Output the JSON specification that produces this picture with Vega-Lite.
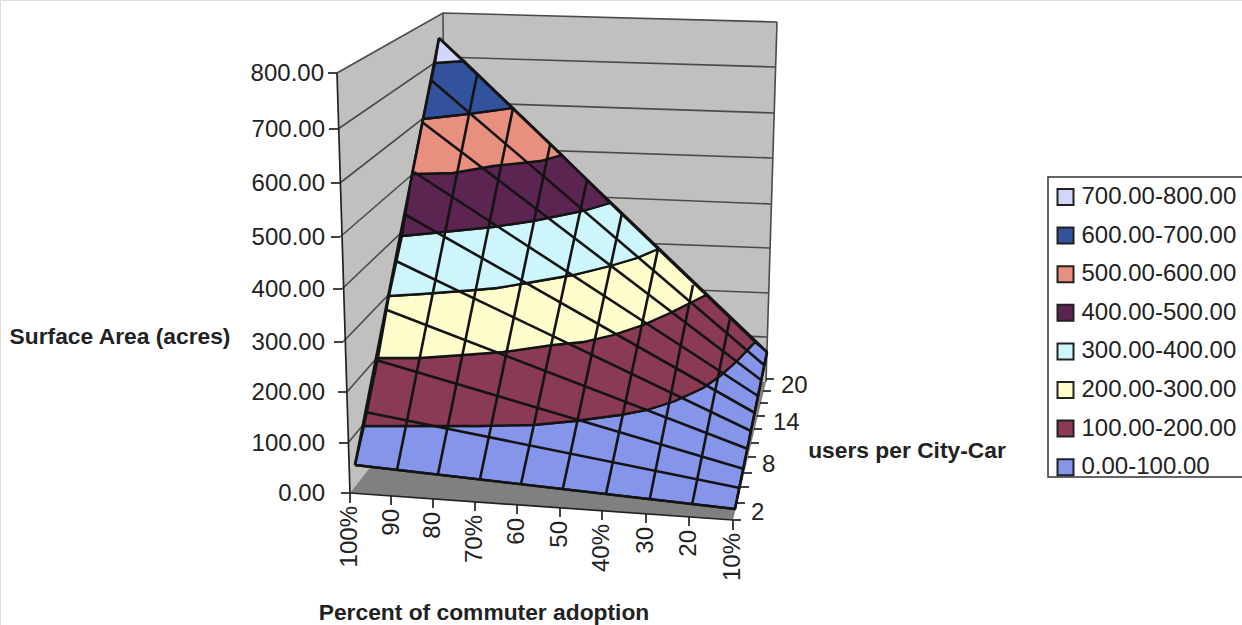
{"$schema":"https://vega.github.io/schema/vega-lite/v6.json","width":1242,"height":625,"padding":0,"autosize":{"type":"none"},"background":"white",
"datasets":{
"walls":[
{"part":"left","ord":0,"x":337,"y":73},{"part":"left","ord":1,"x":443,"y":13},{"part":"left","ord":2,"x":446,"y":369},{"part":"left","ord":3,"x":350,"y":493},
{"part":"back","ord":0,"x":443,"y":13},{"part":"back","ord":1,"x":777,"y":22},{"part":"back","ord":2,"x":766,"y":382},{"part":"back","ord":3,"x":446,"y":369}],
"floor":[{"part":"floor","ord":0,"x":350,"y":493},{"part":"floor","ord":1,"x":446,"y":369},{"part":"floor","ord":2,"x":766,"y":382},{"part":"floor","ord":3,"x":733,"y":520}],
"grid":[
{"v":800,"ord":0,"x":337,"y":73},{"v":800,"ord":1,"x":443,"y":13},{"v":800,"ord":2,"x":777,"y":22},
{"v":700,"ord":0,"x":338,"y":129},{"v":700,"ord":1,"x":443,"y":57},{"v":700,"ord":2,"x":776,"y":67},
{"v":600,"ord":0,"x":340,"y":183},{"v":600,"ord":1,"x":444,"y":102},{"v":600,"ord":2,"x":774,"y":113},
{"v":500,"ord":0,"x":340,"y":237},{"v":500,"ord":1,"x":444,"y":147},{"v":500,"ord":2,"x":773,"y":158},
{"v":400,"ord":0,"x":342,"y":289},{"v":400,"ord":1,"x":445,"y":191},{"v":400,"ord":2,"x":772,"y":204},
{"v":300,"ord":0,"x":343,"y":342},{"v":300,"ord":1,"x":445,"y":236},{"v":300,"ord":2,"x":770,"y":248},
{"v":200,"ord":0,"x":347,"y":392},{"v":200,"ord":1,"x":445,"y":280},{"v":200,"ord":2,"x":769,"y":293},
{"v":100,"ord":0,"x":348,"y":443},{"v":100,"ord":1,"x":446,"y":325},{"v":100,"ord":2,"x":767,"y":337},
{"v":"corner","ord":0,"x":443,"y":13},{"v":"corner","ord":1,"x":446,"y":369},
{"v":"right","ord":0,"x":777,"y":22},{"v":"right","ord":1,"x":766,"y":382}],
"bands":[
{"band":"0.00-100.00","ord":0,"x":355,"y":465},{"band":"0.00-100.00","ord":1,"x":364,"y":426},{"band":"0.00-100.00","ord":2,"x":420,"y":426},{"band":"0.00-100.00","ord":3,"x":480,"y":426},{"band":"0.00-100.00","ord":4,"x":533,"y":425},{"band":"0.00-100.00","ord":5,"x":575,"y":421},{"band":"0.00-100.00","ord":6,"x":620,"y":415},{"band":"0.00-100.00","ord":7,"x":647,"y":410},{"band":"0.00-100.00","ord":8,"x":675,"y":401},{"band":"0.00-100.00","ord":9,"x":703,"y":388},{"band":"0.00-100.00","ord":10,"x":720,"y":376},{"band":"0.00-100.00","ord":11,"x":737,"y":361},{"band":"0.00-100.00","ord":12,"x":755,"y":342},{"band":"0.00-100.00","ord":13,"x":767,"y":352},{"band":"0.00-100.00","ord":14,"x":735,"y":509},{"band":"0.00-100.00","ord":15,"x":355,"y":465},
{"band":"100.00-200.00","ord":0,"x":364,"y":426},{"band":"100.00-200.00","ord":1,"x":378,"y":358},{"band":"100.00-200.00","ord":2,"x":420,"y":358},{"band":"100.00-200.00","ord":3,"x":463,"y":355},{"band":"100.00-200.00","ord":4,"x":503,"y":352},{"band":"100.00-200.00","ord":5,"x":553,"y":345},{"band":"100.00-200.00","ord":6,"x":583,"y":342},{"band":"100.00-200.00","ord":7,"x":613,"y":335},{"band":"100.00-200.00","ord":8,"x":643,"y":325},{"band":"100.00-200.00","ord":9,"x":670,"y":313},{"band":"100.00-200.00","ord":10,"x":690,"y":303},{"band":"100.00-200.00","ord":11,"x":706,"y":295},{"band":"100.00-200.00","ord":12,"x":755,"y":342},{"band":"100.00-200.00","ord":13,"x":737,"y":361},{"band":"100.00-200.00","ord":14,"x":720,"y":376},{"band":"100.00-200.00","ord":15,"x":703,"y":388},{"band":"100.00-200.00","ord":16,"x":675,"y":401},{"band":"100.00-200.00","ord":17,"x":647,"y":410},{"band":"100.00-200.00","ord":18,"x":620,"y":415},{"band":"100.00-200.00","ord":19,"x":575,"y":421},{"band":"100.00-200.00","ord":20,"x":533,"y":425},{"band":"100.00-200.00","ord":21,"x":480,"y":426},{"band":"100.00-200.00","ord":22,"x":420,"y":426},{"band":"100.00-200.00","ord":23,"x":364,"y":426},
{"band":"200.00-300.00","ord":0,"x":378,"y":358},{"band":"200.00-300.00","ord":1,"x":389,"y":296},{"band":"200.00-300.00","ord":2,"x":422,"y":294},{"band":"200.00-300.00","ord":3,"x":475,"y":290},{"band":"200.00-300.00","ord":4,"x":497,"y":288},{"band":"200.00-300.00","ord":5,"x":527,"y":283},{"band":"200.00-300.00","ord":6,"x":573,"y":275},{"band":"200.00-300.00","ord":7,"x":610,"y":266},{"band":"200.00-300.00","ord":8,"x":637,"y":258},{"band":"200.00-300.00","ord":9,"x":658,"y":249},{"band":"200.00-300.00","ord":10,"x":706,"y":295},{"band":"200.00-300.00","ord":11,"x":690,"y":303},{"band":"200.00-300.00","ord":12,"x":670,"y":313},{"band":"200.00-300.00","ord":13,"x":643,"y":325},{"band":"200.00-300.00","ord":14,"x":613,"y":335},{"band":"200.00-300.00","ord":15,"x":583,"y":342},{"band":"200.00-300.00","ord":16,"x":553,"y":345},{"band":"200.00-300.00","ord":17,"x":503,"y":352},{"band":"200.00-300.00","ord":18,"x":463,"y":355},{"band":"200.00-300.00","ord":19,"x":420,"y":358},{"band":"200.00-300.00","ord":20,"x":378,"y":358},
{"band":"300.00-400.00","ord":0,"x":389,"y":296},{"band":"300.00-400.00","ord":1,"x":402,"y":236},{"band":"300.00-400.00","ord":2,"x":443,"y":232},{"band":"300.00-400.00","ord":3,"x":493,"y":227},{"band":"300.00-400.00","ord":4,"x":533,"y":221},{"band":"300.00-400.00","ord":5,"x":583,"y":211},{"band":"300.00-400.00","ord":6,"x":610,"y":203},{"band":"300.00-400.00","ord":7,"x":658,"y":249},{"band":"300.00-400.00","ord":8,"x":637,"y":258},{"band":"300.00-400.00","ord":9,"x":610,"y":266},{"band":"300.00-400.00","ord":10,"x":573,"y":275},{"band":"300.00-400.00","ord":11,"x":527,"y":283},{"band":"300.00-400.00","ord":12,"x":497,"y":288},{"band":"300.00-400.00","ord":13,"x":475,"y":290},{"band":"300.00-400.00","ord":14,"x":422,"y":294},{"band":"300.00-400.00","ord":15,"x":389,"y":296},
{"band":"400.00-500.00","ord":0,"x":402,"y":236},{"band":"400.00-500.00","ord":1,"x":412,"y":174},{"band":"400.00-500.00","ord":2,"x":453,"y":173},{"band":"400.00-500.00","ord":3,"x":493,"y":166},{"band":"400.00-500.00","ord":4,"x":540,"y":161},{"band":"400.00-500.00","ord":5,"x":562,"y":155},{"band":"400.00-500.00","ord":6,"x":610,"y":203},{"band":"400.00-500.00","ord":7,"x":583,"y":211},{"band":"400.00-500.00","ord":8,"x":533,"y":221},{"band":"400.00-500.00","ord":9,"x":493,"y":227},{"band":"400.00-500.00","ord":10,"x":443,"y":232},{"band":"400.00-500.00","ord":11,"x":402,"y":236},
{"band":"500.00-600.00","ord":0,"x":412,"y":174},{"band":"500.00-600.00","ord":1,"x":423,"y":119},{"band":"500.00-600.00","ord":2,"x":468,"y":114},{"band":"500.00-600.00","ord":3,"x":513,"y":108},{"band":"500.00-600.00","ord":4,"x":562,"y":155},{"band":"500.00-600.00","ord":5,"x":540,"y":161},{"band":"500.00-600.00","ord":6,"x":493,"y":166},{"band":"500.00-600.00","ord":7,"x":453,"y":173},{"band":"500.00-600.00","ord":8,"x":412,"y":174},
{"band":"600.00-700.00","ord":0,"x":423,"y":119},{"band":"600.00-700.00","ord":1,"x":435,"y":63},{"band":"600.00-700.00","ord":2,"x":464,"y":61},{"band":"600.00-700.00","ord":3,"x":513,"y":108},{"band":"600.00-700.00","ord":4,"x":468,"y":114},{"band":"600.00-700.00","ord":5,"x":423,"y":119},
{"band":"700.00-800.00","ord":0,"x":439,"y":38},{"band":"700.00-800.00","ord":1,"x":464,"y":61},{"band":"700.00-800.00","ord":2,"x":435,"y":63},{"band":"700.00-800.00","ord":3,"x":439,"y":38}],
"mesh":[
{"m":"u2","ord":0,"x":355,"y":465},{"m":"u2","ord":1,"x":735,"y":509},
{"m":"u4","ord":0,"x":365,"y":412},{"m":"u4","ord":1,"x":740,"y":488},
{"m":"u6","ord":0,"x":376,"y":360},{"m":"u6","ord":1,"x":744,"y":469},
{"m":"u8","ord":0,"x":387,"y":310},{"m":"u8","ord":1,"x":748,"y":449},
{"m":"u10","ord":0,"x":396,"y":261},{"m":"u10","ord":1,"x":751,"y":431},
{"m":"u12","ord":0,"x":406,"y":215},{"m":"u12","ord":1,"x":755,"y":413},
{"m":"u14","ord":0,"x":414,"y":172},{"m":"u14","ord":1,"x":758,"y":396},
{"m":"u16","ord":0,"x":422,"y":122},{"m":"u16","ord":1,"x":761,"y":380},
{"m":"u18","ord":0,"x":431,"y":80},{"m":"u18","ord":1,"x":764,"y":365},
{"m":"u20","ord":0,"x":439,"y":38},{"m":"u20","ord":1,"x":767,"y":352},
{"m":"a100","ord":0,"x":355,"y":465},{"m":"a100","ord":1,"x":439,"y":38},
{"m":"a90","ord":0,"x":397,"y":470},{"m":"a90","ord":1,"x":477,"y":75},
{"m":"a80","ord":0,"x":438,"y":474},{"m":"a80","ord":1,"x":513,"y":108},
{"m":"a70","ord":0,"x":480,"y":479},{"m":"a70","ord":1,"x":550,"y":145},
{"m":"a60","ord":0,"x":521,"y":484},{"m":"a60","ord":1,"x":587,"y":180},
{"m":"a50","ord":0,"x":563,"y":488},{"m":"a50","ord":1,"x":622,"y":213},
{"m":"a40","ord":0,"x":606,"y":494},{"m":"a40","ord":1,"x":658,"y":249},
{"m":"a30","ord":0,"x":650,"y":498},{"m":"a30","ord":1,"x":693,"y":285},
{"m":"a20","ord":0,"x":692,"y":505},{"m":"a20","ord":1,"x":730,"y":318},
{"m":"a10","ord":0,"x":735,"y":509},{"m":"a10","ord":1,"x":767,"y":352}],
"axes":[
{"a":"value","ord":0,"x":337,"y":73},{"a":"value","ord":1,"x":350,"y":493},
{"a":"front","ord":0,"x":350,"y":493},{"a":"front","ord":1,"x":733,"y":520},
{"a":"y800","ord":0,"x":328,"y":73},{"a":"y800","ord":1,"x":337,"y":73},
{"a":"y700","ord":0,"x":329,"y":129},{"a":"y700","ord":1,"x":338,"y":129},
{"a":"y600","ord":0,"x":331,"y":183},{"a":"y600","ord":1,"x":340,"y":183},
{"a":"y500","ord":0,"x":331,"y":237},{"a":"y500","ord":1,"x":340,"y":237},
{"a":"y400","ord":0,"x":333,"y":289},{"a":"y400","ord":1,"x":342,"y":289},
{"a":"y300","ord":0,"x":334,"y":342},{"a":"y300","ord":1,"x":343,"y":342},
{"a":"y200","ord":0,"x":338,"y":392},{"a":"y200","ord":1,"x":347,"y":392},
{"a":"y100","ord":0,"x":339,"y":443},{"a":"y100","ord":1,"x":348,"y":443},
{"a":"y0","ord":0,"x":341,"y":493},{"a":"y0","ord":1,"x":350,"y":493},
{"a":"x100","ord":0,"x":350,"y":493},{"a":"x100","ord":1,"x":350,"y":503},
{"a":"x90","ord":0,"x":391,"y":496},{"a":"x90","ord":1,"x":391,"y":505},
{"a":"x80","ord":0,"x":433,"y":499},{"a":"x80","ord":1,"x":433,"y":508},
{"a":"x70","ord":0,"x":475,"y":502},{"a":"x70","ord":1,"x":475,"y":511},
{"a":"x60","ord":0,"x":517,"y":505},{"a":"x60","ord":1,"x":517,"y":514},
{"a":"x50","ord":0,"x":560,"y":508},{"a":"x50","ord":1,"x":560,"y":517},
{"a":"x40","ord":0,"x":602,"y":511},{"a":"x40","ord":1,"x":602,"y":520},
{"a":"x30","ord":0,"x":646,"y":514},{"a":"x30","ord":1,"x":646,"y":523},
{"a":"x20","ord":0,"x":689,"y":517},{"a":"x20","ord":1,"x":689,"y":526},
{"a":"x10","ord":0,"x":733,"y":520},{"a":"x10","ord":1,"x":733,"y":530},
{"a":"u1","ord":0,"x":733,"y":520},{"a":"u1","ord":1,"x":741,"y":520},
{"a":"u2","ord":0,"x":737,"y":503},{"a":"u2","ord":1,"x":745,"y":503},
{"a":"u3","ord":0,"x":741,"y":487},{"a":"u3","ord":1,"x":749,"y":487},
{"a":"u4","ord":0,"x":744,"y":473},{"a":"u4","ord":1,"x":752,"y":473},
{"a":"u5","ord":0,"x":748,"y":457},{"a":"u5","ord":1,"x":756,"y":457},
{"a":"u6","ord":0,"x":751,"y":443},{"a":"u6","ord":1,"x":759,"y":443},
{"a":"u7","ord":0,"x":754,"y":429},{"a":"u7","ord":1,"x":762,"y":429},
{"a":"u8","ord":0,"x":757,"y":416},{"a":"u8","ord":1,"x":765,"y":416},
{"a":"u9","ord":0,"x":760,"y":403},{"a":"u9","ord":1,"x":768,"y":403},
{"a":"u10","ord":0,"x":763,"y":391},{"a":"u10","ord":1,"x":771,"y":391},
{"a":"u11","ord":0,"x":766,"y":379},{"a":"u11","ord":1,"x":774,"y":379}],
"frame":[{"ord":0,"x":1244,"y":177},{"ord":1,"x":1048,"y":177},{"ord":2,"x":1048,"y":477},{"ord":3,"x":1244,"y":477}],
"valueLabels":[{"t":"800.00","x":324,"y":74},{"t":"700.00","x":325,"y":130},{"t":"600.00","x":325,"y":184},{"t":"500.00","x":325,"y":238},{"t":"400.00","x":325,"y":290},{"t":"300.00","x":325,"y":343},{"t":"200.00","x":325,"y":393},{"t":"100.00","x":325,"y":444},{"t":"0.00","x":325,"y":494}],
"usersLabels":[{"t":"20","x":781,"y":386},{"t":"14","x":773,"y":423},{"t":"8","x":762,"y":465},{"t":"2","x":751,"y":513}],
"adoptLabels":[{"t":"100%","x":350,"y":506},{"t":"90","x":392,"y":509},{"t":"80","x":433,"y":512},{"t":"70%","x":475,"y":515},{"t":"60","x":517,"y":518},{"t":"50","x":560,"y":521},{"t":"40%","x":602,"y":524},{"t":"30","x":646,"y":527},{"t":"20","x":689,"y":530},{"t":"10%","x":733,"y":533}],
"titles":[{"t":"Surface Area (acres)","x":120,"y":337},{"t":"users per City-Car","x":907,"y":451},{"t":"Percent of commuter adoption","x":484,"y":613}]
},
"encoding":{
"x":{"field":"x","type":"quantitative","scale":{"domain":[0,1242],"nice":false,"zero":false},"axis":null},
"y":{"field":"y","type":"quantitative","scale":{"domain":[625,0],"nice":false,"zero":false},"axis":null}},
"layer":[
{"data":{"name":"walls"},"mark":{"type":"line","fill":"#c0c1bf","strokeWidth":0},"encoding":{"detail":{"field":"part"},"order":{"field":"ord"}}},
{"data":{"name":"floor"},"mark":{"type":"line","fill":"#808080","strokeWidth":0},"encoding":{"detail":{"field":"part"},"order":{"field":"ord"}}},
{"data":{"name":"grid"},"mark":{"type":"line","stroke":"#4a4a4a","strokeWidth":1.6},"encoding":{"detail":{"field":"v"},"order":{"field":"ord"}}},
{"data":{"name":"axes"},"mark":{"type":"line","stroke":"#222222","strokeWidth":1.7},"encoding":{"detail":{"field":"a"},"order":{"field":"ord"}}},
{"data":{"name":"bands"},"mark":{"type":"line","stroke":"#141414","strokeWidth":2.3},"encoding":{"order":{"field":"ord"},"fill":{"field":"band","type":"nominal","scale":{"domain":["700.00-800.00","600.00-700.00","500.00-600.00","400.00-500.00","300.00-400.00","200.00-300.00","100.00-200.00","0.00-100.00"],"range":["#d2d6fb","#33529c","#e98f80","#5c2450","#ccf6fb","#fffdcc","#8a3a55","#8595ea"]},"legend":{"title":null,"orient":"none","legendX":1053.5,"legendY":185,"padding":0,"symbolType":"square","symbolSize":256,"symbolStrokeColor":"#222222","symbolStrokeWidth":2,"labelFont":"Liberation Sans","labelFontSize":24,"labelColor":"#222222","labelOffset":4,"rowPadding":14.6,"labelLimit":300}}}},
{"data":{"name":"mesh"},"mark":{"type":"line","stroke":"#141414","strokeWidth":2.6},"encoding":{"detail":{"field":"m"},"order":{"field":"ord"}}},
{"data":{"name":"frame"},"mark":{"type":"line","stroke":"#333333","strokeWidth":1.5},"encoding":{"order":{"field":"ord"}}},
{"data":{"name":"valueLabels"},"mark":{"type":"text","font":"Liberation Sans","fontSize":24,"align":"right","baseline":"middle","fill":"#222222"},"encoding":{"text":{"field":"t"}}},
{"data":{"name":"usersLabels"},"mark":{"type":"text","font":"Liberation Sans","fontSize":24,"align":"left","baseline":"middle","fill":"#222222"},"encoding":{"text":{"field":"t"}}},
{"data":{"name":"adoptLabels"},"mark":{"type":"text","font":"Liberation Sans","fontSize":24,"angle":270,"align":"right","baseline":"middle","fill":"#222222"},"encoding":{"text":{"field":"t"}}},
{"data":{"name":"titles"},"mark":{"type":"text","font":"Liberation Sans","fontWeight":"bold","fontSize":22.8,"align":"center","baseline":"middle","fill":"#222222"},"encoding":{"text":{"field":"t"}}}
]}
